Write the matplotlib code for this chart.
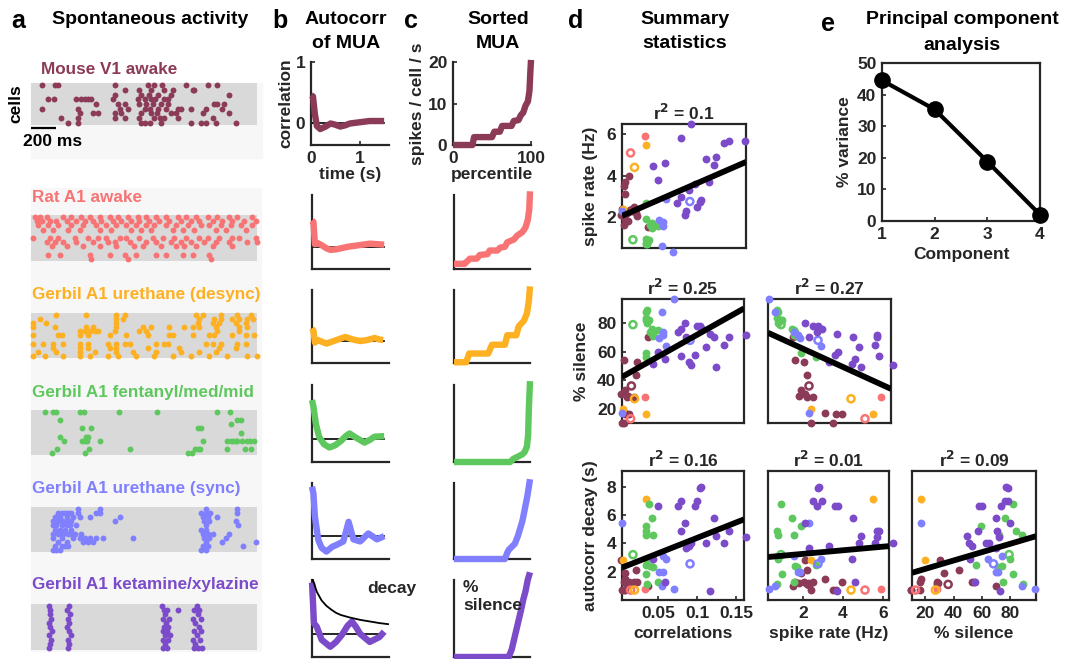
import numpy as np
import matplotlib
matplotlib.use('Agg')
import matplotlib.pyplot as plt
from matplotlib.patches import Rectangle

W, H = 1065, 659
plt.rcParams['font.family'] = ['Liberation Sans', 'DejaVu Sans']
plt.rcParams['font.weight'] = 'bold'
plt.rcParams['axes.labelweight'] = 'bold'
TXT = '#262626'
FS = 12.5

# ---------------- data ----------------
group_names = ['Mouse V1 awake', 'Rat A1 awake', 'Gerbil A1 urethane (desync)',
               'Gerbil A1 fentanyl/med/mid', 'Gerbil A1 urethane (sync)',
               'Gerbil A1 ketamine/xylazine']
group_colors = ['#8B3A57', '#F87474', '#FDB022', '#5EC85E', '#8080FF', '#7B4BC9']

# raster spike times (ms) per cell
raster_mouse = [
    [85, 190, 217, 666, 930, 980, 1040, 1234, 1406, 1485],
    [745, 864, 957, 1062, 1128, 1287, 1300],
    [666, 877, 940, 1010, 1115, 1578],
    [132, 185, 362, 402, 428, 455, 481, 653, 851, 904, 957, 990, 1060, 1089],
    [521, 692, 745, 864, 917, 970, 1036, 1089, 1459, 1485, 1538],
    [85, 375, 706, 772, 904, 950, 1010, 1075, 1168, 1195, 1274, 1393, 1525],
    [388, 494, 534, 666, 719, 877, 957, 1000, 1115, 1155, 1366, 1578],
    [238, 375, 666, 745, 864, 983, 1030, 1062, 1168, 1446],
    [296, 375, 877, 904, 950, 1036, 1274, 1353, 1393, 1472, 1631],
]
raster_rat = [
    [32, 71, 124, 256, 322, 402, 468, 547, 626, 692, 772, 851, 917, 996, 1076, 1168, 1234, 1313, 1406, 1485, 1578, 1644, 1763],
    [45, 84, 150, 203, 283, 362, 428, 494, 560, 653, 719, 798, 864, 943, 1023, 1102, 1194, 1274, 1340, 1446, 1525, 1604, 1697, 1789],
    [58, 137, 217, 322, 415, 521, 600, 679, 758, 838, 917, 983, 1076, 1155, 1247, 1353, 1419, 1512, 1591, 1670, 1763],
    [98, 177, 296, 388, 547, 640, 798, 877, 957, 1128, 1208, 1300, 1472, 1551, 1710],
    [],
    [18, 150, 217, 349, 454, 534, 600, 706, 758, 864, 970, 1049, 1142, 1234, 1340, 1406, 1498, 1604, 1657, 1789],
    [124, 190, 256, 362, 494, 613, 666, 785, 917, 996, 1115, 1194, 1274, 1380, 1472, 1578, 1723, 1802],
    [164, 283, 415, 547, 679, 824, 890, 1036, 1155, 1221, 1313, 1446, 1604],
    [],
    [137, 230, 468, 626, 745, 838, 996, 1076, 1208, 1287, 1419],
    [481, 772, 1432],
]
raster_desync = [
    [203, 436, 679, 745, 1313, 1366, 1512, 1644, 1750],
    [71, 679, 732, 1340, 1459, 1512, 1604, 1657, 1723, 1768],
    [18, 119, 679, 1327, 1446, 1498, 1631, 1710],
    [18, 190, 441, 494, 679, 890, 957, 1102, 1221, 1287, 1340, 1472, 1657, 1723],
    [388, 428, 468, 507, 534, 666, 864, 917, 1485, 1657],
    [18, 217, 243, 388, 454, 626, 758, 930, 1102, 1128, 1287, 1419, 1459, 1604, 1710, 1776],
    [],
    [18, 98, 177, 256, 388, 454, 613, 679, 745, 785, 996, 1062, 1089, 1393, 1446, 1512, 1644, 1710],
    [177, 388, 454, 626, 679, 930, 1181, 1498, 1631],
    [58, 203, 388, 507, 679, 811, 996, 1194, 1340, 1472],
    [18, 111, 256, 388, 468, 613, 692, 838, 983, 1128, 1274, 1419, 1565, 1723, 1802],
]
raster_fent = [
    [111, 177, 203, 388, 420, 700, 1004, 1480, 1583],
    [],
    [230, 1644, 1676],
    [1596],
    [410, 478, 1332, 1353],
    [1670],
    [227, 441, 457],
    [259, 407, 428, 449, 547, 1366, 1565, 1591, 1610, 1636, 1644, 1684, 1718, 1742, 1776],
    [],
    [211, 463, 790, 1306, 1327, 1343, 1559, 1702, 1750],
    [169, 433, 1247, 1282],
]
raster_sync = [
    [375, 547, 1393, 1644],
    [217, 243, 269, 296, 322, 375, 521, 547, 1353, 1393, 1424, 1644],
    [190, 230, 283, 335, 388, 468, 706, 1366, 1406, 1485],
    [177, 217, 256, 296, 322, 666, 1380, 1414, 1636],
    [177, 203, 243, 283, 309, 362, 1393, 1652],
    [190, 230, 269, 322, 1353, 1393],
    [177, 217, 256, 296, 322, 349, 402, 1366, 1406, 1446, 1578],
    [177, 243, 335, 388, 428, 468, 521, 573, 811, 1380, 1419, 1551],
    [217, 283, 415, 454, 494, 1393, 1525, 1789],
    [190, 243, 269, 296, 1366, 1406, 1689],
    [177, 203, 230, 1353, 1393],
]
raster_ket = [
    [140, 300, 1045, 1320],
    [155, 290, 1060, 1085, 1168, 1300, 1340],
    [148, 310, 1070, 1330],
    [160, 295, 1050, 1100, 1290, 1350],
    [145, 305, 1075, 1310],
    [152, 285, 1060, 1095, 1335],
    [165, 300, 1048, 1080, 1300, 1355],
    [140, 315, 1065, 1105, 1320],
    [158, 292, 1055, 1090, 1290, 1345],
    [150, 305, 1070, 1310],
    [145, 298, 1050, 1085, 1300, 1330, 1360],
]
rasters = [raster_mouse, raster_rat, raster_desync, raster_fent, raster_sync, raster_ket]

# autocorrelation of MUA (time s, correlation)
ac_t = [
    [0.0, 0.04, 0.08, 0.12, 0.19, 0.3, 0.4, 0.5, 0.6, 0.7, 0.8, 1.0, 1.2, 1.35, 1.5],
    [0.0, 0.03, 0.06, 0.12, 0.2, 0.3, 0.38, 0.5, 0.6, 0.75, 0.9, 1.05, 1.2, 1.35, 1.5],
    [0.0, 0.03, 0.06, 0.12, 0.17, 0.3, 0.45, 0.6, 0.69, 0.85, 1.0, 1.15, 1.3, 1.4, 1.48],
    [0.0, 0.03, 0.08, 0.15, 0.25, 0.36, 0.48, 0.6, 0.7, 0.78, 0.9, 1.09, 1.2, 1.3, 1.5],
    [0.0, 0.03, 0.06, 0.13, 0.2, 0.3, 0.42, 0.52, 0.65, 0.71, 0.76, 0.86, 1.0, 1.17, 1.35, 1.5],
    [0.0, 0.02, 0.04, 0.1, 0.2, 0.38, 0.5, 0.62, 0.74, 0.83, 0.92, 1.0, 1.2, 1.4, 1.5],
]
ac_v = [
    [0.46, 0.44, 0.15, -0.04, -0.09, -0.05, 0.0, -0.02, -0.05, -0.03, 0.0, 0.02, 0.04, 0.04, 0.04],
    [0.51, 0.48, 0.05, 0.07, 0.03, -0.03, -0.06, -0.05, -0.03, 0.0, 0.02, 0.04, 0.06, 0.05, 0.04],
    [0.25, 0.2, -0.03, 0.02, 0.0, -0.05, 0.0, 0.05, 0.08, 0.03, 0.0, 0.02, 0.06, 0.03, 0.02],
    [0.72, 0.6, 0.28, 0.03, -0.1, -0.16, -0.12, -0.04, 0.05, 0.1, 0.03, -0.07, -0.02, 0.04, 0.05],
    [0.93, 0.8, 0.37, -0.07, -0.22, -0.29, -0.2, -0.16, -0.1, 0.1, 0.27, -0.06, -0.1, 0.05, -0.06, 0.0],
    [0.95, 0.6, 0.2, 0.13, -0.11, -0.24, -0.15, -0.02, 0.15, 0.23, 0.12, 0.0, -0.15, -0.06, 0.04],
]
decay_t = [0.02, 0.1, 0.2, 0.3, 0.4, 0.5, 0.6, 0.8, 1.0, 1.2, 1.4, 1.58]
decay_v = [1.0, 0.78, 0.62, 0.52, 0.45, 0.39, 0.35, 0.30, 0.26, 0.23, 0.20, 0.18]

# sorted MUA (percentile, rate); first in spikes/cell/s, others normalised
smua_p = [
    [0, 25, 27, 50, 53, 60, 63, 75, 78, 84, 87, 90, 93, 96, 98, 99, 100],
    [0, 14, 17, 21, 30, 34, 44, 47, 57, 61, 67, 70, 79, 83, 90, 94, 97, 99, 100],
    [0, 16, 20, 45, 50, 67, 70, 82, 85, 92, 96, 98.5, 100],
    [0, 74, 78, 82, 86, 90, 93, 96, 97.5, 98.5, 100],
    [0, 67, 70, 72, 80, 84, 87, 90, 93, 96, 98.5, 100],
    [0, 72, 76, 82, 88, 91, 94, 97, 100],
]
smua_v = [
    [0, 0, 1.9, 1.9, 3.2, 3.2, 4.6, 4.6, 5.8, 6.0, 7.2, 7.8, 9.5, 10.5, 13, 17, 20.5],
    [0.07, 0.07, 0.1, 0.14, 0.14, 0.19, 0.2, 0.25, 0.25, 0.29, 0.3, 0.36, 0.4, 0.45, 0.5, 0.56, 0.66, 0.8, 1.05],
    [0.01, 0.01, 0.13, 0.13, 0.25, 0.25, 0.38, 0.38, 0.5, 0.58, 0.68, 0.85, 1.05],
    [0, 0, 0.04, 0.06, 0.08, 0.1, 0.13, 0.2, 0.35, 0.7, 1.05],
    [0, 0, 0.08, 0.12, 0.2, 0.3, 0.4, 0.5, 0.65, 0.8, 0.95, 1.05],
    [0, 0, 0.1, 0.35, 0.6, 0.74, 0.85, 1.0, 1.1],
]

# summary statistics per recording
rec_group = [0]*15 + [1]*2 + [2]*3 + [3]*14 + [4]*8 + [5]*21
rec_open = ([0, 0, 0, 0, 0, 0, 0, 1, 0, 0, 0, 0, 0, 0, 0] + [0, 1] + [0, 1, 0] +
            [0]*13 + [1] + [0]*7 + [1] + [0]*21)
rec_corr = [0.037, 0.006, 0.023, 0.022, 0.003, 0.008, 0.010, 0.016, 0.004, 0.006, 0.013, 0.008, 0.008, 0.019, 0.012,
            0.034, 0.015,
            0.035, 0.020, 0.005,
            0.038, 0.042, 0.035, 0.035, 0.035, 0.043, 0.036, 0.040, 0.043, 0.035, 0.036, 0.050, 0.035, 0.018,
            0.070, 0.055, 0.057, 0.057, 0.051, 0.060, 0.004, 0.091,
            0.105, 0.104, 0.100, 0.080, 0.050, 0.085, 0.122, 0.086, 0.141, 0.162, 0.090, 0.112, 0.135, 0.044,
            0.059, 0.116, 0.092, 0.080, 0.124, 0.075, 0.097]
rec_rate = [1.5, 1.6, 2.05, 2.2, 2.1, 1.9, 2.2, 2.3, 2.4, 3.5, 3.97, 3.1, 3.67, 2.5, 1.8,
            5.9, 5.1,
            5.5, 4.4, 2.4,
            0.9, 1.45, 1.9, 0.7, 0.75, 1.55, 0.75, 1.6, 1.7, 0.95, 0.7, 1.55, 2.67, 0.9,
            0.3, 0.6, 1.56, 1.77, 1.85, 2.88, 2.3, 2.75,
            2.8, 2.75, 2.5, 2.96, 3.77, 2.1, 4.5, 2.3, 5.7, 5.7, 3.3, 4.8, 5.6, 4.45,
            4.6, 3.7, 6.5, 5.8, 4.9, 2.7, 3.6]
rec_silence = [70, 54, 53, 44, 30, 33, 28, 36, 10, 10, 16, 17, 16, 28, 29,
               28, 13,
               16.5, 27, 20,
               82, 76, 59, 84, 88, 72, 80, 74, 71, 82, 89, 75, 56, 79,
               97, 88, 74, 71.5, 69.5, 64, 17, 68,
               77, 78, 78, 76, 60, 80, 70, 70, 70.6, 72, 53, 63, 65, 51.5,
               55, 72.7, 51, 57, 49, 73.6, 58]
rec_decay = [1.0, 1.3, 1.3, 2.1, 2.8, 1.9, 1.1, 1.1, 0.7, 0.7, 1.3, 1.5, 0.7, 1.3, 1.2,
             0.8, 0.7,
             7.15, 0.7, 2.8,
             6.8, 5.8, 5.2, 4.9, 4.6, 4.6, 2.9, 2.4, 2.3, 1.8, 1.1, 1.3, 2.5, 3.2,
             0.8, 1.0, 3.1, 2.0, 2.0, 2.9, 5.45, 2.55,
             8.0, 7.9, 7.0, 7.0, 6.6, 5.45, 5.8, 3.7, 4.9, 4.45, 3.8, 4.0, 4.0, 2.9,
             1.3, 0.6, 4.0, 4.9, 4.5, 6.6, 6.6]

# regression lines (intercept, slope) and r^2
fit_tl = (1.99, 16.4)
fit_ml = (41.1, 308.0)
fit_mr = (74.9, -6.4)
fit_bl = (2.2, 21.8)
fit_bm = (3.0, 0.127)
fit_br = (1.61, 0.0295)
r2_labels = ['0.1', '0.25', '0.27', '0.16', '0.01', '0.09']

# PCA
pca_comp = [1, 2, 3, 4]
pca_var = [44.5, 35.3, 18.8, 2.0]

# ---------------- figure ----------------
fig = plt.figure(figsize=(W/100, H/100), dpi=100)


def add_ax(l, t, r, b, **kw):
    return fig.add_axes([l/W, 1-b/H, (r-l)/W, (b-t)/H], **kw)


def ftext(x, y, s, **kw):
    kw.setdefault('fontweight', 'bold')
    kw.setdefault('color', TXT)
    return fig.text(x/W, 1-y/H, s, **kw)


def style_spines(ax, box=False):
    for side in ['left', 'bottom', 'top', 'right']:
        ax.spines[side].set_linewidth(1.6)
        ax.spines[side].set_color(TXT)
        if not box and side in ('top', 'right'):
            ax.spines[side].set_visible(False)
    ax.tick_params(direction='in', length=3, width=1.2, colors=TXT,
                   labelsize=FS, labelcolor=TXT, pad=4)
    for lab in ax.get_xticklabels() + ax.get_yticklabels():
        lab.set_fontweight('bold')


TFS = 14
# headers
ftext(18, 21, 'a', fontsize=18, ha='center', va='center', color='black')
ftext(150, 20, 'Spontaneous activity', fontsize=TFS, ha='center', va='center', color='black')
ftext(280, 21, 'b', fontsize=18, ha='center', va='center', color='black')
ftext(346, 20, 'Autocorr', fontsize=TFS, ha='center', va='center', color='black')
ftext(346, 43, 'of MUA', fontsize=TFS, ha='center', va='center', color='black')
ftext(411, 21, 'c', fontsize=18, ha='center', va='center', color='black')
ftext(498, 20, 'Sorted', fontsize=TFS, ha='center', va='center', color='black')
ftext(498, 43, 'MUA', fontsize=TFS, ha='center', va='center', color='black')
ftext(576, 21, 'd', fontsize=18, ha='center', va='center', color='black')
ftext(685, 20, 'Summary', fontsize=TFS, ha='center', va='center', color='black')
ftext(685, 44, 'statistics', fontsize=TFS, ha='center', va='center', color='black')
ftext(828, 24, 'e', fontsize=18, ha='center', va='center', color='black')
ftext(962, 20, 'Principal component', fontsize=TFS, ha='center', va='center', color='black')
ftext(962, 45, 'analysis', fontsize=TFS, ha='center', va='center', color='black')

# ---------------- panel a: rasters ----------------
fig.patches.append(Rectangle((31/W, 1-158/H), (262-31)/W, (158-83)/H,
                             transform=fig.transFigure, color='#f7f7f7', zorder=-5))
fig.patches.append(Rectangle((31/W, 1-651/H), (261-31)/W, (651-188)/H,
                             transform=fig.transFigure, color='#f7f7f7', zorder=-5))

raster_boxes = [(83, 125), (215, 261), (313, 358), (410, 455), (507, 552), (604, 650)]
label_pos = [(41, 70), (32, 198), (32, 295), (32, 392), (32, 488), (32, 585)]
for gi, (top, bot) in enumerate(raster_boxes):
    ax = add_ax(31, top, 257, bot)
    ax.set_facecolor('#d9d9d9')
    for s in ax.spines.values():
        s.set_visible(False)
    ax.set_xticks([]); ax.set_yticks([])
    cells = rasters[gi]
    n = len(cells)
    ax.set_xlim(0, 1800)
    ax.set_ylim(n - 0.5, -0.5)
    xs, ys = [], []
    for ci, times in enumerate(cells):
        xs += times
        ys += [ci] * len(times)
    ax.scatter(xs, ys, s=18, color=group_colors[gi], linewidths=0, clip_on=False, zorder=3)
    ftext(label_pos[gi][0], label_pos[gi][1], group_names[gi], fontsize=12.3,
          ha='left', va='center', color=group_colors[gi])
    if gi == 0:
        ax.plot([0, 200], [n - 0.5 + 0.65, n - 0.5 + 0.65], color='black', lw=1.6,
                clip_on=False, solid_capstyle='butt')

ftext(16, 104, 'cells', fontsize=12.5, ha='center', va='center', rotation=90, color='black')
ftext(23, 142, '200 ms', fontsize=12.5, ha='left', va='center', color='black')

# ---------------- panel b & c ----------------
row_tb = [(62, 145), (195, 269), (290, 363), (385, 462), (483, 559), (580, 657)]
for gi, (top, bot) in enumerate(row_tb):
    col = group_colors[gi]
    # autocorr
    if gi == 0:
        axb = add_ax(311, top, 389, bot)
        axb.set_ylim(-0.35, 1.0)
    else:
        axb = add_ax(312, top, 389, bot)
        axb.set_ylim(-0.43, 1.0)
    axb.set_xlim(0, 1.6)
    axb.set_facecolor('none')
    axb.plot([0, 1.5], [0, 0], color='black', lw=1.2, zorder=2)
    axb.plot(ac_t[gi], ac_v[gi], color=col, lw=4.6, solid_joinstyle='round',
             solid_capstyle='butt', zorder=3, clip_on=False)
    style_spines(axb)
    if gi == 0:
        axb.set_xticks([0, 1]); axb.set_yticks([0, 1])
        style_spines(axb)
        axb.set_ylabel('correlation', fontsize=FS, color=TXT, labelpad=2)
        axb.set_xlabel('time (s)', fontsize=FS, color=TXT, labelpad=1)
    else:
        axb.set_xticks([]); axb.set_yticks([])
    if gi == 5:
        axb.plot(decay_t, decay_v, color='black', lw=1.3, zorder=4, clip_on=False)
        ftext(392, 588, 'decay', fontsize=12.5, ha='center', va='center')

    # sorted MUA
    if gi == 0:
        axc = add_ax(453, top, 531, bot)
        axc.set_ylim(0, 20)
    else:
        axc = add_ax(454, top, 530, bot)
        axc.set_ylim(0, 1)
    axc.set_xlim(0, 100)
    axc.set_facecolor('none')
    axc.plot(smua_p[gi], smua_v[gi], color=col, lw=4.6, solid_joinstyle='round',
             solid_capstyle='butt', zorder=3, clip_on=False)
    if gi == 0:
        axc.set_xticks([0, 100]); axc.set_yticks([0, 10, 20])
        style_spines(axc)
        axc.set_ylabel('spikes / cell / s', fontsize=FS, color=TXT, labelpad=2)
        axc.set_xlabel('percentile', fontsize=FS, color=TXT, labelpad=1)
    else:
        axc.set_xticks([]); axc.set_yticks([])
        style_spines(axc)
    if gi == 5:
        ftext(463, 588, '%', fontsize=12.5, ha='left', va='center')
        ftext(463, 606, 'silence', fontsize=12.5, ha='left', va='center')

# ---------------- panel d: scatter ----------------
corr = np.array(rec_corr); rate = np.array(rec_rate)
sil = np.array(rec_silence); dec = np.array(rec_decay)
grp = np.array(rec_group); opn = np.array(rec_open)


def scatter_panel(ax, x, y, fit, xlim, ylim, r2):
    ax.set_xlim(*xlim); ax.set_ylim(*ylim)
    for g in range(6):
        m = (grp == g) & (opn == 0)
        if m.any():
            ax.scatter(x[m], y[m], s=32, color=group_colors[g], linewidths=0,
                       zorder=3, clip_on=False)
        m = (grp == g) & (opn == 1)
        if m.any():
            ax.scatter(x[m], y[m], s=26, facecolors='none', edgecolors=group_colors[g],
                       linewidths=1.8, zorder=3, clip_on=False)
    xx = np.array(xlim)
    ax.plot(xx, fit[0] + fit[1] * xx, color='black', lw=4.2, zorder=4, solid_capstyle='butt')
    ax.set_title('r$^{2}$ = ' + r2, fontsize=FS, fontweight='bold', color=TXT, pad=3)
    style_spines(ax, box=True)


ax_tl = add_ax(622, 124, 746, 248)
scatter_panel(ax_tl, corr, rate, fit_tl, (0.004, 0.163), (0.5, 6.5), r2_labels[0])
ax_tl.set_xticks([]); ax_tl.set_yticks([2, 4, 6])
style_spines(ax_tl, box=True)
ax_tl.set_ylabel('spike rate (Hz)', fontsize=FS, color=TXT, labelpad=6)

ax_ml = add_ax(622, 299, 744, 423)
scatter_panel(ax_ml, corr, sil, fit_ml, (0.004, 0.16), (10, 97), r2_labels[1])
ax_ml.set_xticks([]); ax_ml.set_yticks([20, 40, 60, 80])
style_spines(ax_ml, box=True)
ax_ml.set_ylabel('% silence', fontsize=FS, color=TXT, labelpad=6)

ax_mr = add_ax(768, 299, 891, 423)
scatter_panel(ax_mr, rate, sil, fit_mr, (0.25, 6.4), (10, 97), r2_labels[2])
ax_mr.set_xticks([]); ax_mr.set_yticks([])

ax_bl = add_ax(622, 471, 744, 600)
scatter_panel(ax_bl, corr, dec, fit_bl, (0.004, 0.16), (0, 9.1), r2_labels[3])
ax_bl.set_xticks([0.05, 0.1, 0.15]); ax_bl.set_xticklabels(['0.05', '0.1', '0.15'])
ax_bl.set_yticks([2, 4, 6, 8])
style_spines(ax_bl, box=True)
ax_bl.set_ylabel('autocorr decay (s)', fontsize=FS, color=TXT, labelpad=6)
ax_bl.set_xlabel('correlations', fontsize=FS, color=TXT, labelpad=4)

ax_bm = add_ax(768, 471, 889, 600)
scatter_panel(ax_bm, rate, dec, fit_bm, (0.25, 6.3), (0, 9.1), r2_labels[4])
ax_bm.set_xticks([2, 4, 6]); ax_bm.set_yticks([])
style_spines(ax_bm, box=True)
ax_bm.set_xlabel('spike rate (Hz)', fontsize=FS, color=TXT, labelpad=4)

ax_br = add_ax(912, 471, 1036, 600)
scatter_panel(ax_br, sil, dec, fit_br, (10.5, 98), (0, 9.1), r2_labels[5])
ax_br.set_xticks([20, 40, 60, 80]); ax_br.set_yticks([])
style_spines(ax_br, box=True)
ax_br.set_xlabel('% silence', fontsize=FS, color=TXT, labelpad=4)

# ---------------- panel e: PCA ----------------
ax_e = add_ax(882, 63, 1040, 221)
ax_e.plot(pca_comp, pca_var, color='black', lw=3, marker='o', markersize=11,
          clip_on=False, zorder=3)
ax_e.set_xlim(1, 4); ax_e.set_ylim(0, 50)
ax_e.set_xticks([1, 2, 3, 4]); ax_e.set_yticks([0, 10, 20, 30, 40, 50])
style_spines(ax_e, box=True)
ax_e.set_xlabel('Component', fontsize=FS, color=TXT, labelpad=4)
ax_e.set_ylabel('% variance', fontsize=FS, color=TXT, labelpad=4)

fig.savefig('out.png', dpi=100)
